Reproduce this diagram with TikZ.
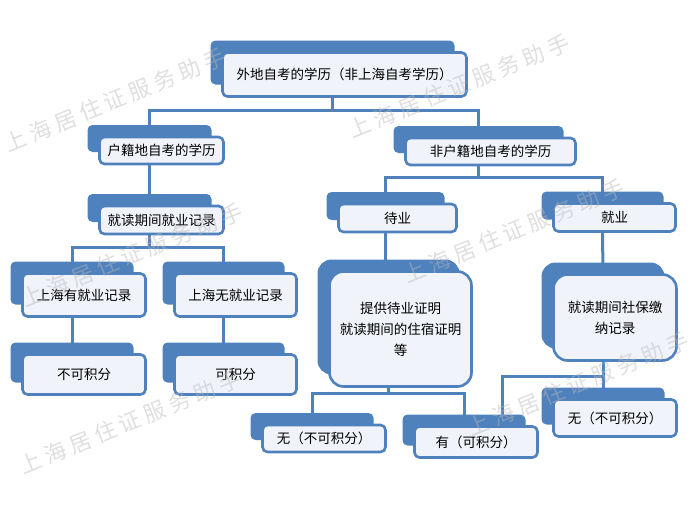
\documentclass[tikz,border=0pt]{standalone}
\usepackage{fontspec}
\setmainfont{Noto Sans CJK SC}
\newfontfamily\markfont[LetterSpace=22]{Noto Sans CJK SC}
\usetikzlibrary{shadows, backgrounds, calc}
\definecolor{szBlue}{HTML}{4F81BD}
\definecolor{szFill}{HTML}{F0F3FA}
\definecolor{szMark}{HTML}{B8B8B8}
\tikzset{
  card/.style 2 args = {draw=szBlue, line width=2.6pt, fill=szFill,
                        rounded corners=5pt, inner sep=0pt, align=center,
                        minimum width=#1pt, minimum height=#2pt,
                        font=\fontsize{13.5}{21}\selectfont,
                        general shadow={fill=szBlue, shadow xshift=-12pt,
                                        shadow yshift=12pt}},
  bigcard/.style     = {rounded corners=14pt},
  conn/.style        = {szBlue, line width=3pt},
  wmark/.style       = {szMark, opacity=0.45, rotate=22,
                        font=\markfont\fontsize{22}{22}\selectfont},
}

\begin{document}
\begin{tikzpicture}[x=1pt, y=-1pt]
  \useasboundingbox (0,0) rectangle (691,509);

  % level 1 and 2
  \node[card={244}{44}] (top) at (344.5,74.5) {外地自考的学历（非上海自考学历）};
  \node[card={124}{27}] (huji) at (161.5,150.5) {户籍地自考的学历};
  \node[card={170}{27}] (feihuji) at (490.5,151.5) {非户籍地自考的学历};

  % left branch
  \node[card={124}{28}] (jiudu) at (161.5,220) {就读期间就业记录};
  \node[card={123}{43}] (youjiuye) at (84,295) {上海有就业记录};
  \node[card={122}{43}] (wujiuye) at (235.5,295) {上海无就业记录};
  \node[card={123}{40}] (buke) at (84,374.5) {不可积分};
  \node[card={122}{40}] (ke) at (235.5,374.5) {可积分};

  % right branch
  \node[card={118}{28}] (daiye) at (397.5,218) {待业};
  \node[card={122}{28}] (jiuye) at (614.5,217.5) {就业};
  \node[card={142}{115}, bigcard] (zhengming) at (400.5,329)
    {提供待业证明\\就读期间的住宿证明\\等};
  \node[card={123}{86}, bigcard] (shebao) at (615,317.5)
    {就读期间社保缴\\纳记录};
  \node[card={123}{27}] (wuL) at (324,438.5) {无（不可积分）};
  \node[card={123}{31}] (you) at (476,442) {有（可积分）};
  \node[card={123}{37}] (wuR) at (615,418) {无（不可积分）};

  % connectors, behind the cards
  \begin{scope}[on background layer]
    \draw[conn] ([xshift=-12pt]top.south) -- ++(0,13) -| ([xshift=-12pt]huji.north);
    \draw[conn] ([xshift=-12pt]top.south) ++(0,13) -| ([xshift=-12pt]feihuji.north);
    \draw[conn] ([xshift=-12pt]huji.south) -- ([xshift=-12pt]jiudu.north);
    \draw[conn] ([xshift=-12pt]jiudu.south) -- ++(0,12) -| ([xshift=-12pt]youjiuye.north);
    \draw[conn] ([xshift=-12pt]jiudu.south) ++(0,12) -| ([xshift=-12pt]wujiuye.north);
    \draw[conn] ([xshift=-12pt]youjiuye.south) -- ([xshift=-12pt]buke.north);
    \draw[conn] ([xshift=-12pt]wujiuye.south) -- ([xshift=-12pt]ke.north);
    \draw[conn] ([xshift=-12pt]feihuji.south) -- ++(0,11) -| ([xshift=-12pt]daiye.north);
    \draw[conn] ([xshift=-12pt]feihuji.south) ++(0,11) -| ([xshift=-12pt]jiuye.north);
    \draw[conn] ([xshift=-12pt]daiye.south) -- ([xshift=-12pt]daiye.south |- zhengming.north);
    \draw[conn] ([xshift=-12pt]jiuye.south) -- ([xshift=-12pt]shebao.north);
    \draw[conn] ([xshift=-12pt]zhengming.south) -- ++(0,6) -| ([xshift=-12pt]wuL.north);
    \draw[conn] ([xshift=-12pt]zhengming.south) ++(0,6) -| ([xshift=-12pt]you.north);
    \draw[conn] ([xshift=-12pt]shebao.south) -- ([xshift=-12pt]wuR.north);
    \draw[conn] ([xshift=-12pt]shebao.south) ++(0,15) -| ([xshift=26pt]you.north);
  \end{scope}

  % watermarks
  \node[wmark] (mark1) at (115,100) {上海居住证服务助手};
  \node[wmark] (mark2) at (459,86) {上海居住证服务助手};
  \node[wmark] (mark3) at (132,255) {上海居住证服务助手};
  \node[wmark] (mark4) at (514,231) {上海居住证服务助手};
  \node[wmark] (mark5) at (130,422) {上海居住证服务助手};
  \node[wmark] (mark6) at (578,384) {上海居住证服务助手};
\end{tikzpicture}
\end{document}
